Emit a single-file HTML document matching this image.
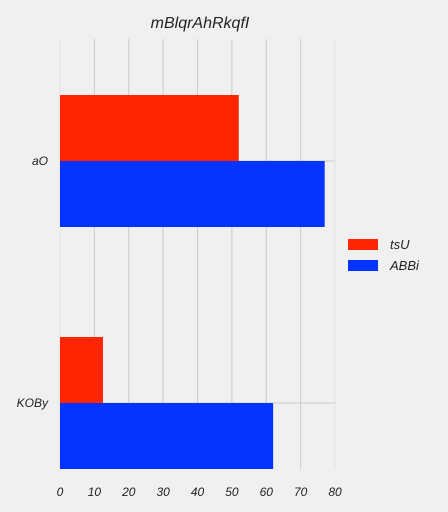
<!DOCTYPE html>
<html><head><meta charset="utf-8"><style>
body{margin:0;background:#f0f0f0;}
svg{display:block;font-family:"Liberation Sans",Arial,sans-serif;font-style:italic;}
</style></head><body>
<svg id="chart" width="448" height="512">
<rect width="448" height="512" fill="#f0f0f0"/>
<text x="200" y="28" font-size="16" text-anchor="middle" fill="#222">mBlqrAhRkqfI</text>
<g id="grid"></g><g id="bars"></g><g id="axes"></g>
<g>
<rect x="348" y="239" width="30" height="11" fill="#ff2500"/>
<text x="390" y="249" font-size="13" fill="#222">tsU</text>
<rect x="348" y="260" width="30" height="11" fill="#0433ff"/>
<text x="390" y="270" font-size="13" fill="#222">ABBi</text>
</g>
</svg>
<script>
const categories=["aO","KOBy"];
const seriesTsU=[52,12.5];
const seriesABBi=[77,62];
const ticks=[0,10,20,30,40,50,60,70,80];
const x0=60,x1=335,yTop=39,yBot=469;
const xs=v=>x0+(v/80)*(x1-x0);
const centers=[161,403];
const bh=66;
const NS="http://www.w3.org/2000/svg";
function mk(t,a,p){const e=document.createElementNS(NS,t);for(const k in a)e.setAttribute(k,a[k]);p.appendChild(e);return e;}
const grid=document.getElementById('grid'),bars=document.getElementById('bars'),axes=document.getElementById('axes');
ticks.forEach((t,i)=>{
 const edge=(i===0||i===ticks.length-1);
 const l=mk('line',{x1:xs(t),x2:xs(t),y1:yTop,y2:yBot,stroke:edge?'#e2e2e2':'#cbcbcb','stroke-width':1},grid);
 
 
 const tx=mk('text',{x:xs(t),y:496,'font-size':12,'text-anchor':'middle',fill:'#222'},axes);
 tx.textContent=t;
 
 
});
categories.forEach((c,i)=>{
 const cy=centers[i];
 const g=mk('line',{x1:x0,x2:x1,y1:cy,y2:cy,stroke:'#cbcbcb','stroke-width':1},grid);
 
 
 const r1=mk('rect',{x:x0,y:cy-bh,width:xs(seriesTsU[i])-x0,height:bh,fill:'#ff2500'},bars);
 
 
 const r2=mk('rect',{x:x0,y:cy,width:xs(seriesABBi[i])-x0,height:bh,fill:'#0433ff'},bars);
 
 
 const t=mk('text',{x:48,y:cy+4,'font-size':12,'text-anchor':'end',fill:'#222'},axes);
 t.textContent=c;
 
 
});
</script>
</body></html>
